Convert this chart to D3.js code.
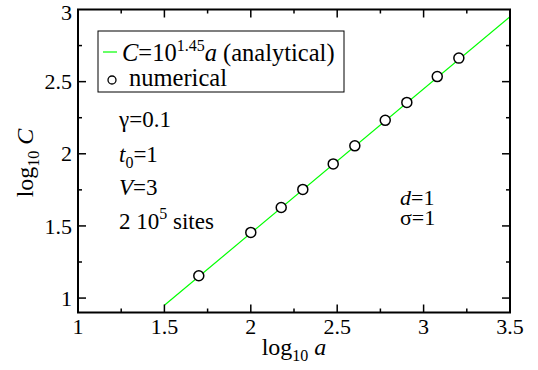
<!DOCTYPE html>
<html><head><meta charset="utf-8">
<script src="https://cdn.jsdelivr.net/npm/d3@7"></script>
<style>body{margin:0;background:#fff}svg{display:block}</style>
</head><body><svg id="c" width="538" height="370" font-family="'Liberation Serif', 'Times New Roman', 'DejaVu Serif', serif"></svg>
<script>
// data
const logA = [1.699, 2.0, 2.176, 2.301, 2.477, 2.602, 2.778, 2.903, 3.079, 3.204];
const logC = [1.155, 1.455, 1.628, 1.753, 1.93, 2.055, 2.232, 2.356, 2.535, 2.663];
const fitIntercept = 1.45;
const fitRange = [1.5, 3.5];
const xTicks = [1, 1.5, 2, 2.5, 3, 3.5];
const yTicks = [1, 1.5, 2, 2.5, 3];
const xMinor = [1.25, 1.75, 2.25, 2.75, 3.25];
const yMinor = [1.25, 1.75, 2.25, 2.75];

const svg = d3.select("#c");
const L = 78, R = 510, T = 9.5, B = 312.5;
const x = d3.scaleLinear().domain([1, 3.5]).range([L, R]);
const y = d3.scaleLinear().domain([0.9, 3]).range([B, T]);

// fit line: log C = 1.45 + log a - 2
const fitPts = fitRange.map(v => [v, v + fitIntercept - 2]);
svg.append("path").attr("d", d3.line().x(d => x(d[0])).y(d => y(d[1]))(fitPts))
  .attr("stroke", "#00ff00").attr("stroke-width", 1.2).attr("fill", "none");

// points
svg.selectAll("circle.p").data(logA).enter().append("circle")
  .attr("cx", d => x(d)).attr("cy", (d, i) => y(logC[i])).attr("r", 5)
  .attr("fill", "#fff").attr("stroke", "#000").attr("stroke-width", 1.5);

// frame
svg.append("rect").attr("x", L).attr("y", T).attr("width", R - L).attr("height", B - T)
  .attr("fill", "none").attr("stroke", "#000").attr("stroke-width", 2);

// ticks (inward, all four sides)
const tk = svg.append("g").attr("stroke", "#000").attr("stroke-width", 1.5);
function xt(v, len) {
  tk.append("line").attr("x1", x(v)).attr("x2", x(v)).attr("y1", B).attr("y2", B - len);
  tk.append("line").attr("x1", x(v)).attr("x2", x(v)).attr("y1", T).attr("y2", T + len);
}
function yt(v, len) {
  tk.append("line").attr("y1", y(v)).attr("y2", y(v)).attr("x1", L).attr("x2", L + len);
  tk.append("line").attr("y1", y(v)).attr("y2", y(v)).attr("x1", R).attr("x2", R - len);
}
xTicks.slice(1, -1).forEach(v => xt(v, 8));
xMinor.forEach(v => xt(v, 4));
yTicks.filter(v => v > 0.9 && v < 3).forEach(v => yt(v, 8));
yMinor.forEach(v => yt(v, 4));

// tick labels
svg.selectAll("text.xl").data(xTicks).enter().append("text")
  .attr("x", d => x(d)).attr("y", 334).attr("text-anchor", "middle")
  .attr("font-size", 22).text(d => d3.format("")(d));
svg.selectAll("text.yl").data(yTicks).enter().append("text")
  .attr("x", 72).attr("y", d => Math.max(y(d), 12)).attr("dy", "0.35em").attr("text-anchor", "end")
  .attr("font-size", 22).text(d => d3.format("")(d));

// axis titles
const xtit = svg.append("text").attr("x", 294).attr("y", 355).attr("text-anchor", "middle").attr("font-size", 24);
xtit.append("tspan").text("log");
xtit.append("tspan").attr("font-size", 16).attr("dy", 6).text("10");
xtit.append("tspan").attr("dy", -6).text(" ");
xtit.append("tspan").attr("font-style", "italic").text("a");

const ytit = svg.append("text").attr("transform", "translate(33,163) rotate(-90)").attr("text-anchor", "middle").attr("font-size", 24);
ytit.append("tspan").text("log");
ytit.append("tspan").attr("font-size", 16).attr("dy", 6).text("10");
ytit.append("tspan").attr("dy", -6).text(" ");
ytit.append("tspan").attr("font-style", "italic").text("C");

// legend
svg.append("rect").attr("x", 98).attr("y", 31).attr("width", 246).attr("height", 61)
  .attr("fill", "#fff").attr("stroke", "#000").attr("stroke-width", 1);
svg.append("line").attr("x1", 103).attr("x2", 117).attr("y1", 52).attr("y2", 52)
  .attr("stroke", "#00ff00").attr("stroke-width", 1.2);
const lt = svg.append("text").attr("x", 122).attr("y", 61).attr("font-size", 24.5);
lt.append("tspan").attr("font-style", "italic").text("C");
lt.append("tspan").text("=10");
lt.append("tspan").attr("font-size", 16).attr("dy", -10).text("1.45");
lt.append("tspan").attr("dy", 10).attr("font-style", "italic").text("a");
lt.append("tspan").text(" (analytical)");
svg.append("circle").attr("cx", 112).attr("cy", 80).attr("r", 4)
  .attr("fill", "#fff").attr("stroke", "#000").attr("stroke-width", 1.3);
svg.append("text").attr("x", 129).attr("y", 86).attr("font-size", 24.5).text("numerical");

// annotations
function ann(xp, yp, fs, parts) {
  const t = svg.append("text").attr("x", xp).attr("y", yp).attr("font-size", fs);
  parts.forEach(p => {
    const s = t.append("tspan").text(p.t);
    if (p.i) s.attr("font-style", "italic");
    if (p.fs) s.attr("font-size", p.fs);
    if (p.dy) s.attr("dy", p.dy);
  });
}
ann(119, 127, 23, [{t: "γ=0.1"}]);
ann(119, 162, 23, [{t: "t", i: 1}, {t: "0", fs: 16, dy: 6}, {t: "=1", dy: -6}]);
ann(119, 195, 23, [{t: "V", i: 1}, {t: "=3"}]);
ann(119, 229, 23, [{t: "2 10"}, {t: "5", fs: 16, dy: -10}, {t: " sites", dy: 10}]);
ann(400, 205, 22, [{t: "d", i: 1}, {t: "=1"}]);
ann(400, 225, 22, [{t: "σ=1"}]);
</script></body></html>
